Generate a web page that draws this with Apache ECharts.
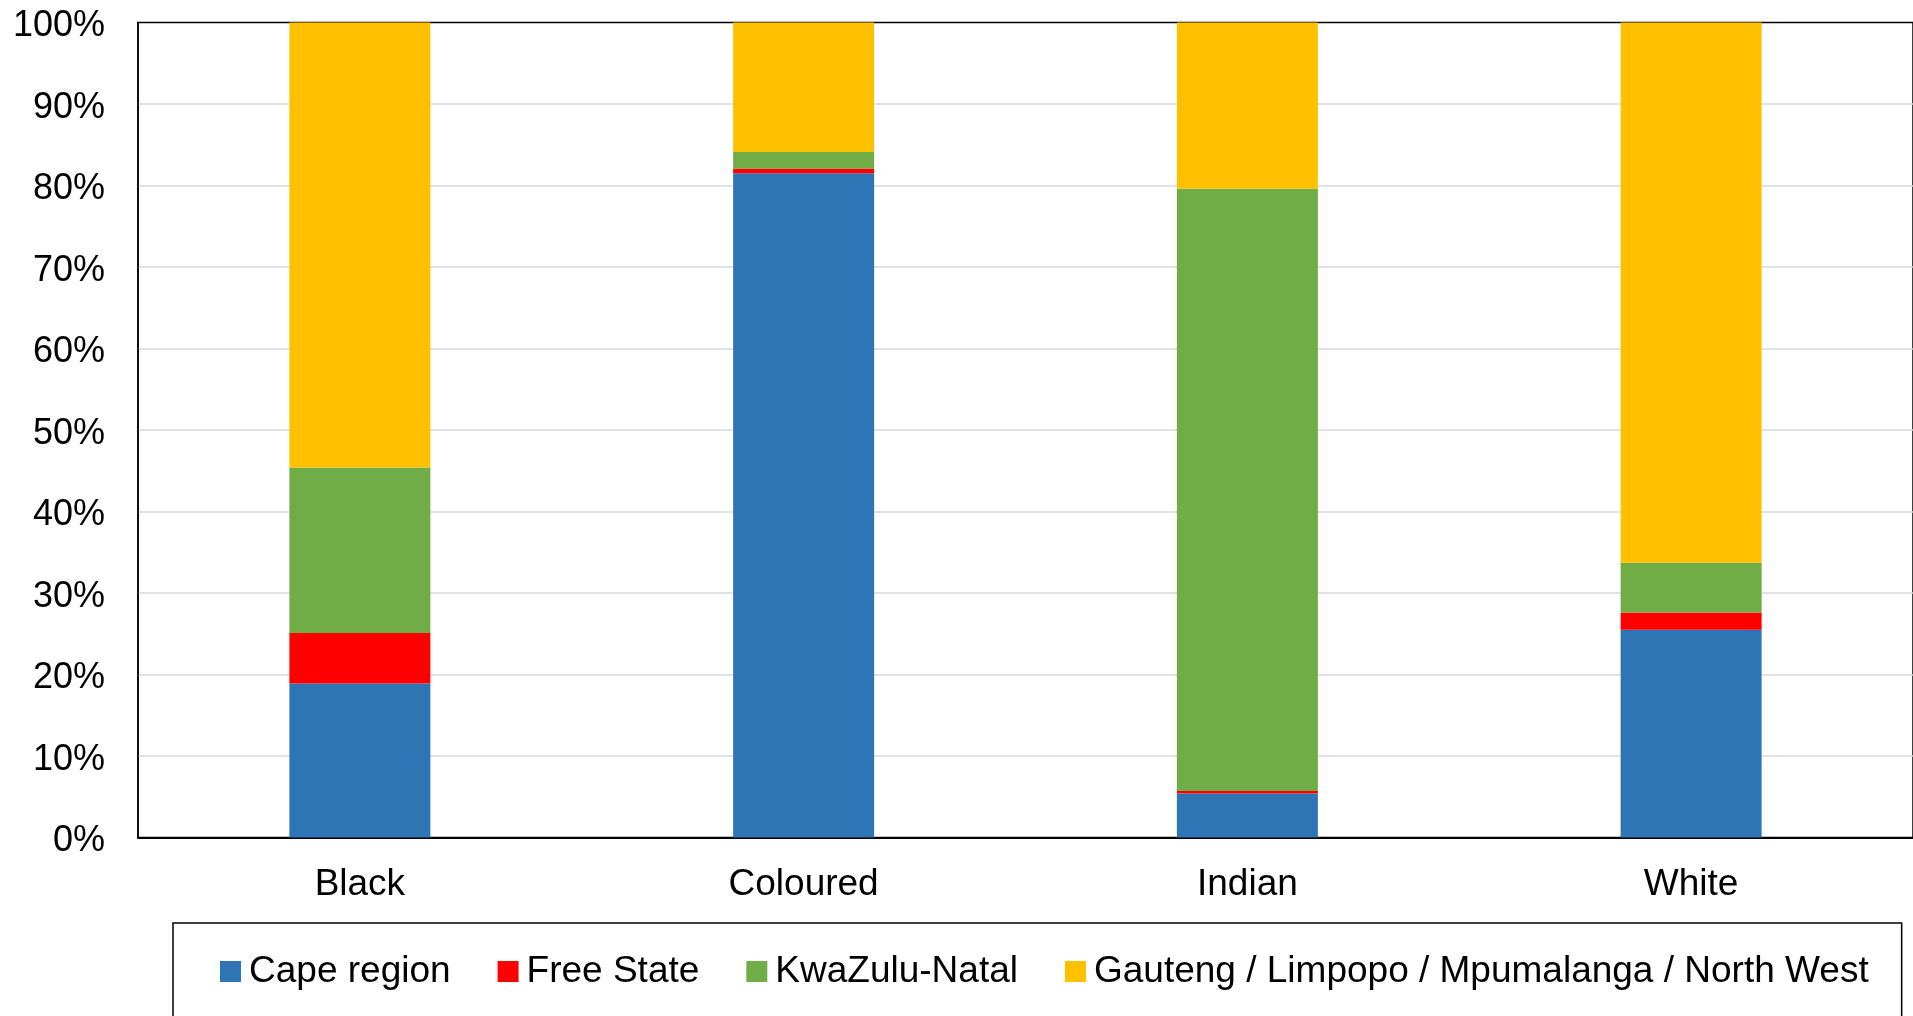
<!DOCTYPE html>
<html>
<head>
<meta charset="utf-8">
<script src="https://cdn.jsdelivr.net/npm/echarts@6/dist/echarts.min.js"></script>
<style>
html,body{margin:0;padding:0;background:#fff;}
#chart{width:1913px;height:1016px;}
</style>
</head>
<body>
<div id="chart"></div>
<script>
const categories = ['Black', 'Coloured', 'Indian', 'White'];
const seriesNames = ['Cape region', 'Free State', 'KwaZulu-Natal', 'Gauteng / Limpopo / Mpumalanga / North West'];
const capeRegion = [18.9, 81.5, 5.4, 25.5];
const freeState = [6.2, 0.6, 0.3, 2.1];
const kwaZuluNatal = [20.3, 2.0, 73.9, 6.1];
const gautengEtc = [54.6, 15.9, 20.4, 66.3];
const seriesColors = ['#2E75B6', '#FF0000', '#70AD47', '#FFC000'];

const values = [capeRegion, freeState, kwaZuluNatal, gautengEtc];
const font = '"Liberation Sans", Arial, sans-serif';

const chart = echarts.init(document.getElementById('chart'), null, {renderer: 'canvas'});
chart.setOption({
  animation: false,
  backgroundColor: '#fff',
  grid: {
    left: 138, top: 22.5, right: -3, bottom: 178.5,
    show: true, borderColor: '#000', borderWidth: 1.5, backgroundColor: 'transparent'
  },
  legend: {
    left: 173, top: 923,
    padding: [30, 33, 70, 47],
    borderColor: '#000', borderWidth: 1.5,
    itemWidth: 21, itemHeight: 21, itemGap: 47,
    icon: 'rect',
    textStyle: {fontFamily: font, fontSize: 37, color: '#000', padding: [0, 0, 0, 3]},
    data: seriesNames
  },
  xAxis: {
    type: 'category',
    data: categories,
    axisLine: {lineStyle: {color: '#000', width: 2}},
    axisTick: {show: false},
    axisLabel: {fontFamily: font, fontSize: 37, color: '#000', margin: 29}
  },
  yAxis: {
    type: 'value',
    min: 0, max: 100, interval: 10,
    axisLine: {show: true, lineStyle: {color: '#000', width: 1.5}},
    axisTick: {show: false},
    splitLine: {showMaxLine: false, showMinLine: false, lineStyle: {color: '#d9d9d9', width: 1.5}},
    axisLabel: {
      fontFamily: font, fontSize: 36, color: '#000', margin: 33,
      formatter: function (v) { return '{a|' + v + '%}'; },
      rich: {a: {fontFamily: font, fontSize: 36, color: '#000', padding: [8, 0, 0, 0]}}
    }
  },
  series: seriesNames.map((name, i) => ({
    name: name,
    type: 'bar',
    stack: 'total',
    barWidth: 141,
    itemStyle: {color: seriesColors[i]},
    data: values[i]
  }))
});
</script>
</body>
</html>
